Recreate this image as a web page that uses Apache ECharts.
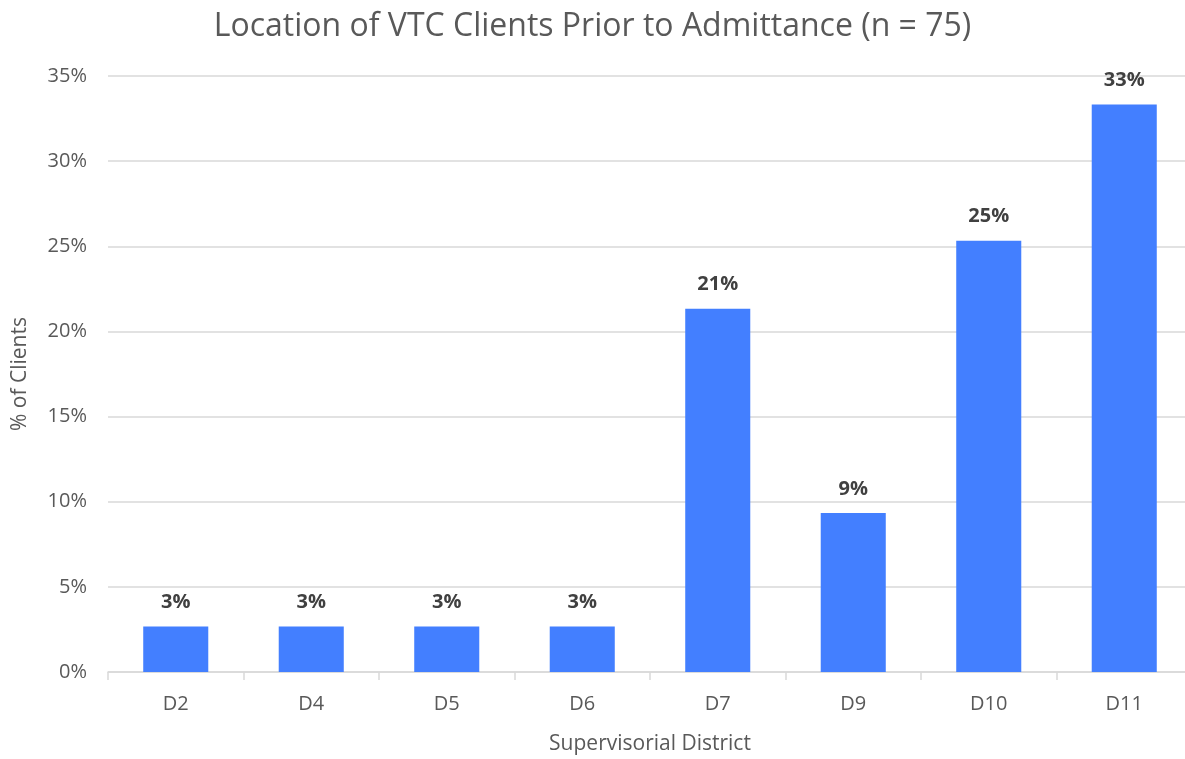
<!DOCTYPE html>
<html>
<head>
<meta charset="utf-8">
<script src="https://cdn.jsdelivr.net/npm/echarts@6/dist/echarts.min.js"></script>
<style>
  html, body { margin: 0; padding: 0; background: #fff; }
  #chart { width: 1185px; height: 759px; }
</style>
</head>
<body>
<div id="chart"></div>
<script>
// districts on the x axis
const districts = ['D2', 'D4', 'D5', 'D6', 'D7', 'D9', 'D10', 'D11']
// share of clients, percent (n = 75)
const shares = [2.67, 2.67, 2.67, 2.67, 21.33, 9.33, 25.33, 33.33]

const font = 'Open Sans'
const Chart = echarts.init(document.getElementById('chart'))

Chart.setOption({
  animation: false,
  textStyle: { fontFamily: font },
  title: {
    text: 'Location of VTC Clients Prior to Admittance (n = 75)',
    left: 'center',
    top: 6,
    textStyle: { fontFamily: font, fontSize: 32, fontWeight: 'normal', color: '#595959' }
  },
  // the plot runs a little past the right edge in the original, so give a width
  grid: { left: 108, width: 1084, top: 76, bottom: 87, outerBoundsMode: 'none' },
  xAxis: {
    type: 'category',
    data: districts,
    name: 'Supervisorial District',
    nameLocation: 'middle',
    nameGap: 62,
    nameTextStyle: { fontSize: 21, color: '#595959' },
    axisLine: { lineStyle: { color: '#d9d9d9', width: 1.5 } },
    axisTick: { show: true, alignWithLabel: false, length: 8, lineStyle: { color: '#d9d9d9', width: 1.5 } },
    axisLabel: { fontSize: 20, color: '#595959', margin: 22 }
  },
  yAxis: {
    type: 'value',
    min: 0,
    max: 35,
    interval: 5,
    name: '% of Clients',
    nameLocation: 'middle',
    nameGap: 77,
    nameTextStyle: { fontSize: 21, color: '#595959' },
    axisLabel: { formatter: '{value}%', fontSize: 20, color: '#595959', margin: 21 },
    splitLine: { lineStyle: { color: '#d9d9d9', width: 1.5 } }
  },
  series: [
    {
      type: 'bar',
      data: shares,
      barWidth: '48%',
      itemStyle: { color: '#437fff' },
      label: {
        show: true,
        position: 'top',
        distance: 14,
        formatter: p => Math.round(p.value) + '%',
        fontSize: 20,
        fontWeight: 'bold',
        color: '#404040'
      }
    }
  ]
})
</script>
</body>
</html>
